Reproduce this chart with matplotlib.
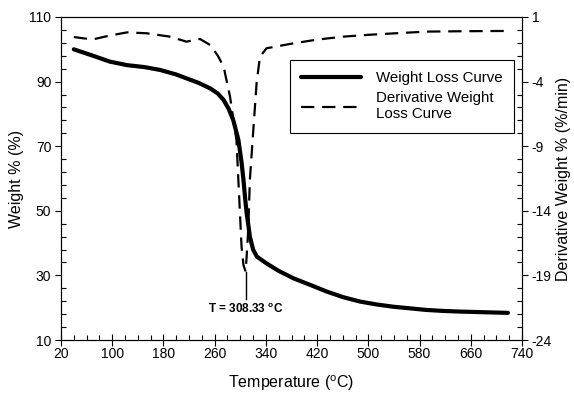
import matplotlib
matplotlib.use("Agg")
import matplotlib.pyplot as plt
import numpy as np

plt.rcParams['font.family'] = ['Liberation Sans', 'DejaVu Sans']
plt.rcParams['axes.unicode_minus'] = False

# Weight loss curve (left axis)
temp_w = [40, 70, 96, 123, 150, 175, 200, 216, 235, 253, 265, 274, 282, 289, 297,
          302, 305, 308, 310, 313, 315, 320, 326, 341, 360, 383, 410, 435, 460, 487,
          513, 539, 565, 591, 617, 643, 680, 718]
weight = [100.0, 98.0, 96.2, 95.1, 94.5, 93.6, 92.2, 91.0, 89.6, 87.9, 86.3, 84.3, 81.5, 78.1, 72.0,
          65.0, 59.5, 53.0, 49.2, 45.0, 42.0, 38.0, 35.8, 33.7, 31.4, 29.1, 27.0, 25.0, 23.3, 21.9,
          21.0, 20.3, 19.8, 19.3, 19.0, 18.8, 18.6, 18.4]

# Derivative weight curve (right axis)
temp_d = [40, 55, 70, 95, 123, 154, 190, 216, 237, 253, 265, 274, 284, 294, 297,
          302, 305, 308.33, 310, 312.4, 315, 320, 325.5, 330.7, 341, 383, 420, 461,
          500, 539, 591, 650, 718]
deriv = [-0.55, -0.65, -0.73, -0.45, -0.19, -0.26, -0.52, -0.91, -0.70, -1.17, -2.0, -2.85, -5.17,
         -8.5, -11.6, -16.8, -18.2, -18.7, -17.5, -15.5, -11.6, -8.0, -4.1, -2.07, -1.42, -1.04,
         -0.75, -0.52, -0.38, -0.27, -0.13, -0.10, -0.08]

x_ticks = [20, 100, 180, 260, 340, 420, 500, 580, 660, 740]
y_ticks = [10, 30, 50, 70, 90, 110]
y2_ticks = [-24, -19, -14, -9, -4, 1]

peak_T = 308.33
peak_label = "T = 308.33 $^\\mathregular{o}$C"

fig = plt.figure(figsize=(5.74, 3.95), dpi=100)
ax = fig.add_axes([61/574, 1-340/395, 461/574, 323/395])
ax2 = ax.twinx()

l1, = ax.plot(temp_w, weight, color='black', lw=3.0, solid_capstyle='round')
l2, = ax2.plot(temp_d, deriv, color='black', lw=1.6, dashes=(6, 3.5))

ax.set_xlim(20, 740)
ax.set_ylim(10, 110)
ax2.set_ylim(-24, 1)

ax.set_xticks(x_ticks)
ax.set_xticks(np.arange(20, 741, 20), minor=True)
ax.set_yticks(y_ticks)
ax.set_yticks(np.arange(10, 111, 4), minor=True)
ax2.set_yticks(y2_ticks)
ax2.set_yticks(np.arange(-24, 2, 1), minor=True)

ax.tick_params(axis='x', which='major', direction='inout', length=8, width=0.8, labelsize=10, pad=1)
ax.tick_params(axis='x', which='minor', direction='in', length=3.5, width=0.8)
ax.tick_params(axis='y', which='major', direction='out', length=4, width=0.8, labelsize=10, pad=3)
ax.tick_params(axis='y', which='minor', direction='in', length=3.5, width=0.8)
ax2.tick_params(axis='y', which='major', direction='out', length=4, width=0.8, labelsize=10, pad=3)
ax2.tick_params(axis='y', which='minor', direction='in', length=3.5, width=0.8)

for a in (ax, ax2):
    for s in a.spines.values():
        s.set_linewidth(0.8)

ax.set_xlabel("Temperature ($^\\mathregular{o}$C)", fontsize=11.5, labelpad=9)
ax.set_ylabel("Weight % (%)", fontsize=11.5, labelpad=4)
ax2.set_ylabel("Derivative Weight % (%/min)", fontsize=11.5, labelpad=3)

# annotation at the derivative peak
ax2.plot([peak_T, peak_T], [-18.7, -20.8], color='black', lw=1.0)
ax2.text(peak_T, -21.1, peak_label, ha='center', va='top', fontsize=8.5, fontweight='bold')

leg = ax2.legend([l1, l2], ["Weight Loss Curve", "Derivative Weight\nLoss Curve"],
                 loc='upper left', bbox_to_anchor=((290-61)/461, 1-(60-17)/323),
                 fancybox=False, edgecolor='black', framealpha=1, fontsize=10.8,
                 handlelength=4.0, handletextpad=1.0, borderpad=0.75, labelspacing=0.4,
                 borderaxespad=0)
leg.get_frame().set_linewidth(0.8)

fig.savefig("out.png", dpi=100)
